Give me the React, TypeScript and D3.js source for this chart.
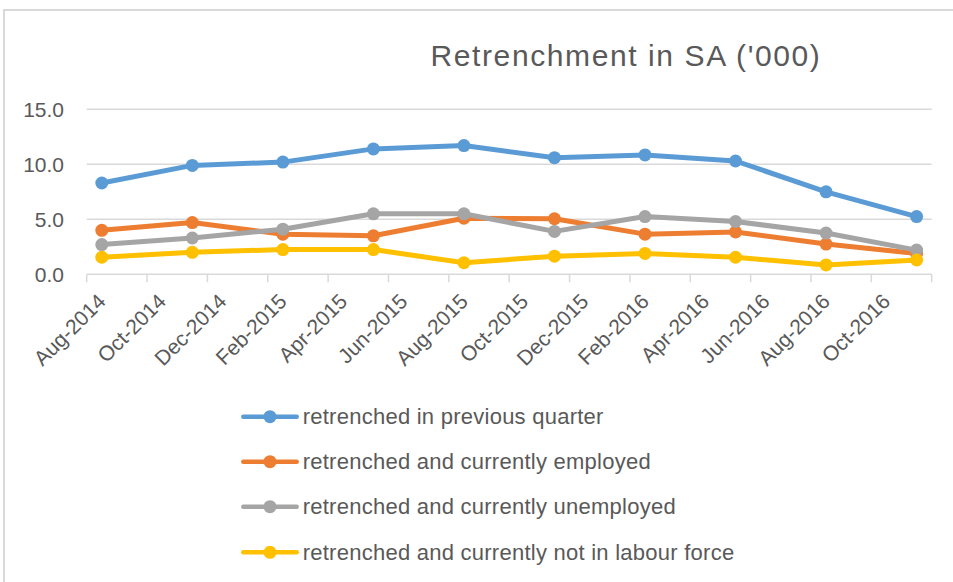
import React from "react";
import * as d3 from "d3";

const months = ["Aug-2014","Sep-2014","Oct-2014","Nov-2014","Dec-2014","Jan-2015","Feb-2015","Mar-2015","Apr-2015","May-2015","Jun-2015","Jul-2015","Aug-2015","Sep-2015","Oct-2015","Nov-2015","Dec-2015","Jan-2016","Feb-2016","Mar-2016","Apr-2016","May-2016","Jun-2016","Jul-2016","Aug-2016","Sep-2016","Oct-2016","Nov-2016"];
const dataMonths = ["Aug-2014","Nov-2014","Feb-2015","May-2015","Aug-2015","Nov-2015","Feb-2016","May-2016","Aug-2016","Nov-2016"];
const seriesNames = [
  "retrenched in previous quarter",
  "retrenched and currently employed",
  "retrenched and currently unemployed",
  "retrenched and currently not in labour force",
];
const previousQuarter = [8.3, 9.9, 10.2, 11.4, 11.7, 10.6, 10.85, 10.3, 7.5, 5.25];
const currentlyEmployed = [4.0, 4.7, 3.65, 3.5, 5.1, 5.05, 3.65, 3.85, 2.75, 1.9];
const currentlyUnemployed = [2.7, 3.3, 4.1, 5.5, 5.5, 3.9, 5.25, 4.8, 3.75, 2.2];
const notInLabourForce = [1.55, 2.0, 2.25, 2.25, 1.05, 1.65, 1.9, 1.55, 0.85, 1.3];
const colors = ["#5b9bd5", "#ed7d31", "#a5a5a5", "#ffc000"];
const yTicks = [0, 5, 10, 15];

const W = 953, H = 582;
const FONT = "'Liberation Sans', Arial, sans-serif";

export default function App() {
  const x = d3.scaleLinear().domain([0, months.length]).range([86.7, 931.7]);
  const y = d3.scaleLinear().domain([0, 15]).range([274.3, 109.3]);
  const all = [previousQuarter, currentlyEmployed, currentlyUnemployed, notInLabourForce];
  const mx = (m: string) => x(months.indexOf(m) + 0.5);
  const line = d3.line<number>().x((_, i) => mx(dataMonths[i])).y((d) => y(d));
  const tickIdx = d3.range(0, months.length + 1, 2);
  const labelIdx = d3.range(0, months.length, 2);
  const legendY = [416.7, 461.7, 506.7, 552.3];

  return (
    <svg width={W} height={H} style={{ position: "absolute", left: 0, top: 0, background: "#fff" }} fontFamily={FONT}>
      <rect x={4} y={10} width={1200} height={1200} fill="#fff" stroke="#d9d9d9" strokeWidth={2} />
      <text x={626} y={66} textAnchor="middle" fontSize={30} fill="#595959" letterSpacing={1.6}>
        Retrenchment in SA ('000)
      </text>
      {yTicks.map((t) => (
        <g key={t}>
          <line x1={x(0)} x2={x(months.length)} y1={y(t)} y2={y(t)} stroke="#d9d9d9" strokeWidth={1.5} />
          <text x={64} y={y(t)} dy="0.35em" textAnchor="end" fontSize={21} fill="#595959">
            {d3.format(".1f")(t)}
          </text>
        </g>
      ))}
      {tickIdx.map((i) => (
        <line key={i} x1={x(i)} x2={x(i)} y1={y(0)} y2={y(0) + 8} stroke="#d9d9d9" strokeWidth={1.5} />
      ))}
      {labelIdx.map((i) => (
        <text key={i} transform={`translate(${x(i + 0.5)},${297.5}) rotate(-45)`} textAnchor="end" dy="0.35em" fontSize={21} fill="#595959">
          {months[i]}
        </text>
      ))}
      {all.map((s, k) => (
        <g key={k}>
          <path d={line(s) || ""} fill="none" stroke={colors[k]} strokeWidth={5} strokeLinejoin="round" strokeLinecap="round" />
          {s.map((v, i) => (
            <circle key={i} cx={mx(dataMonths[i])} cy={y(v)} r={6.5} fill={colors[k]} />
          ))}
        </g>
      ))}
      {seriesNames.map((n, k) => (
        <g key={n}>
          <line x1={243.3} x2={296.7} y1={legendY[k]} y2={legendY[k]} stroke={colors[k]} strokeWidth={4.5} strokeLinecap="round" />
          <circle cx={270} cy={legendY[k]} r={6.5} fill={colors[k]} />
          <text x={302.7} y={legendY[k]} dy="0.35em" fontSize={22} fill="#595959" letterSpacing={0.25}>{n}</text>
        </g>
      ))}
    </svg>
  );
}
